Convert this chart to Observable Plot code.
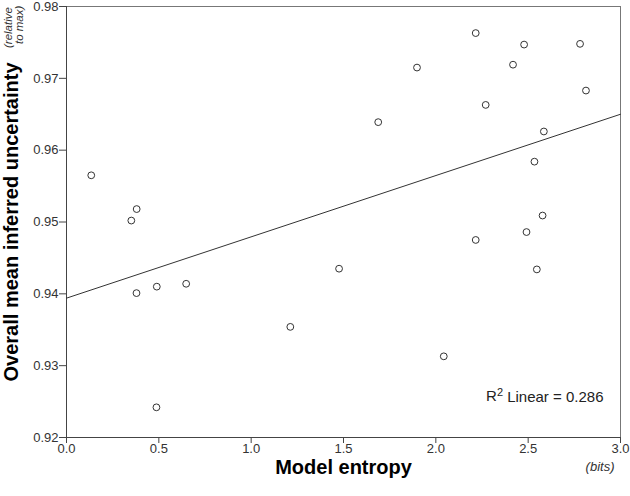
<!DOCTYPE html>
<html>
<head>
<meta charset="utf-8">
<script src="https://cdn.jsdelivr.net/npm/d3@7"></script>
<script src="https://cdn.jsdelivr.net/npm/@observablehq/plot@0.6"></script>
<style>
  html, body { margin: 0; padding: 0; background: white; }
  #chart svg { display: block; }
</style>
</head>
<body>
<div id="chart"></div>
<script>
const entropy = [0.134, 0.351, 0.380, 0.379, 0.489, 0.648, 0.487, 1.212, 1.476, 1.688, 1.898, 2.043, 2.216, 2.216, 2.270, 2.418, 2.478, 2.491, 2.534, 2.547, 2.578, 2.585, 2.781, 2.813];
const uncertainty = [0.9565, 0.9502, 0.9518, 0.9401, 0.9410, 0.9414, 0.9242, 0.9354, 0.9435, 0.9639, 0.9715, 0.9313, 0.9763, 0.9475, 0.9663, 0.9719, 0.9747, 0.9486, 0.9584, 0.9434, 0.9509, 0.9626, 0.9748, 0.9683];
const fitX = [0, 3];
const fitY = [0.9394, 0.9650];
const xTicks = [0, 0.5, 1.0, 1.5, 2.0, 2.5, 3.0];
const yTicks = [0.92, 0.93, 0.94, 0.95, 0.96, 0.97, 0.98];
const r2Base = "R";
const r2Sup = "2";
const r2Rest = " Linear = 0.286";
const xTitle = "Model entropy";
const xUnit = "(bits)";
const yTitle = "Overall mean inferred uncertainty";
const yUnit1 = "(relative";
const yUnit2 = "to max)";

const points = entropy.map((e, i) => ({x: e, y: uncertainty[i]}));
const fit = fitX.map((x, i) => ({x, y: fitY[i]}));

const chart = Plot.plot({
  width: 630,
  height: 496,
  marginLeft: 66,
  marginRight: 10,
  marginTop: 6,
  marginBottom: 59,
  style: {fontFamily: "Liberation Sans, Arial, sans-serif", background: "white"},
  x: {domain: [0, 3]},
  y: {domain: [0.92, 0.98]},
  marks: [
    Plot.ruleY([0.98], {stroke: "#777", strokeWidth: 1}),
    Plot.ruleX([3], {stroke: "#777", strokeWidth: 1}),
    Plot.axisY({ticks: yTicks, tickFormat: d3.format(".2f"), tickSize: 7, tickPadding: 1, fontSize: 13, stroke: "#444", fill: "#333", label: null}),
    Plot.axisX({ticks: xTicks, tickFormat: d3.format(".1f"), tickSize: 6, tickPadding: 0, fontSize: 13, stroke: "#444", fill: "#333", label: null}),
    Plot.ruleX([0], {stroke: "#444", strokeWidth: 1}),
    Plot.ruleY([0.92], {stroke: "#444", strokeWidth: 1}),
    Plot.line(fit, {x: "x", y: "y", stroke: "#333", strokeWidth: 1}),
    Plot.dot(points, {x: "x", y: "y", r: 3.4, stroke: "#333", strokeWidth: 1, fill: "white"}),
    Plot.text([r2Base + r2Sup + r2Rest], {frameAnchor: "bottom-right", dx: -17, dy: -37, textAnchor: "end", lineAnchor: "bottom", fontSize: 15, fill: "#222", className: "r2label"}),
    Plot.text([xTitle], {frameAnchor: "bottom", dy: 36, lineAnchor: "bottom", fontSize: 20, fontWeight: "bold", fill: "black"}),
    Plot.text([xUnit], {frameAnchor: "bottom-right", dx: -6, dy: 33, textAnchor: "end", lineAnchor: "bottom", fontSize: 13, fontStyle: "italic", fill: "#333"}),
    Plot.text([yTitle], {frameAnchor: "left", dx: -49, rotate: -90, textAnchor: "middle", lineAnchor: "bottom", fontSize: 20, fontWeight: "bold", fill: "black"}),
    Plot.text([yUnit1], {frameAnchor: "left", dx: -55, dy: -174, rotate: -90, textAnchor: "start", lineAnchor: "bottom", fontSize: 11.5, fontStyle: "italic", fill: "#333"}),
    Plot.text([yUnit2], {frameAnchor: "left", dx: -44, dy: -178, rotate: -90, textAnchor: "start", lineAnchor: "bottom", fontSize: 11.5, fontStyle: "italic", fill: "#333"})
  ]
});
// render the R² label with a real superscript
d3.select(chart).selectAll("g.r2label text").each(function() {
  const t = d3.select(this);
  t.text(null);
  t.append("tspan").text(r2Base);
  t.append("tspan").attr("dy", "-0.4em").attr("font-size", 11).text(r2Sup);
  t.append("tspan").attr("dy", "0.4em").text(r2Rest);
});
document.getElementById("chart").appendChild(chart);
</script>
</body>
</html>
